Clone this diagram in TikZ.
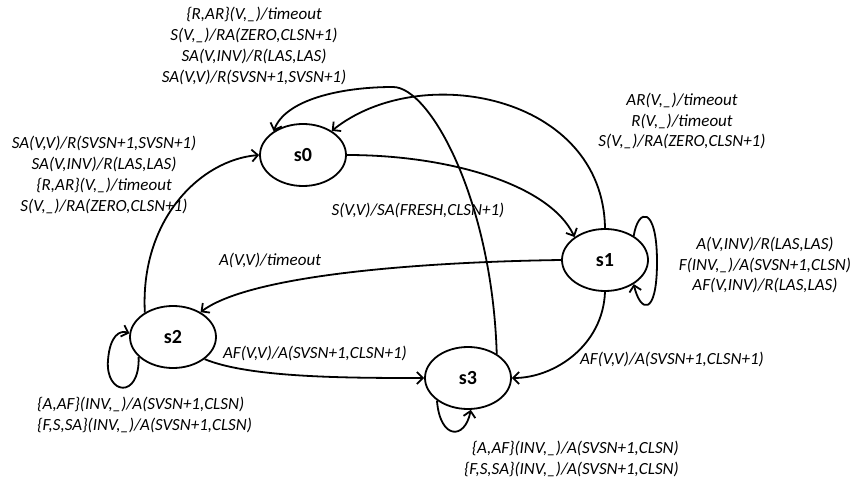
\documentclass[tikz,border=0pt]{standalone}
\usepackage{fontspec}
\setmainfont{Carlito}
\usetikzlibrary{arrows.meta,shapes.geometric}
\begin{document}
\begin{tikzpicture}[x=1pt,y=-1pt,
  state/.style={ellipse, draw, line width=1.8pt, minimum width=86pt, minimum height=62pt,
    inner sep=0pt, font=\fontsize{20}{24}\selectfont\bfseries},
  edge/.style={line width=1.8pt, -{Straight Barb[length=6pt,width=12pt]}},
  lbl/.style={font=\fontsize{17}{20.7}\selectfont\itshape, inner sep=0pt, align=center}]
\useasboundingbox (0,0) rectangle (859,478);

% states
\node[state] (s0) at (303,155) {s0};
\node[state] (s1) at (605,260) {s1};
\node[state] (s2) at (173,337) {s2};
\node[state] (s3) at (468,378) {s3};

% transitions
\draw[edge] (s0.east) .. controls (450,155) and (550,185) .. (s1.143);
\draw[edge] (s1.north) .. controls (603,95) and (420,60) .. (s0.40);
\draw[edge] (s3.40) .. controls (492,200) and (430,87) .. (393,87)
                    .. controls (340,87) and (285,100) .. (s0.141);
\draw[edge] (s1.west) .. controls (420,262) and (250,275) .. (s2.42);
\draw[edge] (s1.south) .. controls (603,345) and (555,378) .. (s3.east);
\draw[edge] (s2.139) .. controls (140,220) and (200,160) .. (s0.west);
\draw[edge] (s2.-35) .. controls (250,378) and (350,378) .. (s3.west);

% self loops
\draw[edge] (s1.40) .. controls (638,208) and (657,205) .. (657,262)
                    .. controls (657,318) and (640,312) .. (s1.-40);
\draw[edge] (s2.210) .. controls (140,400) and (105,395) .. (108,360)
                     .. controls (110,335) and (120,330) .. (s2.175);
\draw[edge] (s3.216) .. controls (440,440) and (465,440) .. (s3.-85);

% transition labels
\node[lbl] (t30) at (254,46) {\{R,AR\}(V,\_)/timeout\\S(V,\_)/RA(ZERO,CLSN+1)\\SA(V,INV)/R(LAS,LAS)\\SA(V,V)/R(SVSN+1,SVSN+1)};
\node[lbl] (t20) at (104,175) {SA(V,V)/R(SVSN+1,SVSN+1)\\SA(V,INV)/R(LAS,LAS)\\\{R,AR\}(V,\_)/timeout\\S(V,\_)/RA(ZERO,CLSN+1)};
\node[lbl] (t10) at (682,121) {AR(V,\_)/timeout\\R(V,\_)/timeout\\S(V,\_)/RA(ZERO,CLSN+1)};
\node[lbl] (t01) at (418,210) {S(V,V)/SA(FRESH,CLSN+1)};
\node[lbl] (t12) at (270,260) {A(V,V)/timeout};
\node[lbl] (t11) at (765,265) {A(V,INV)/R(LAS,LAS)\\F(INV,\_)/A(SVSN+1,CLSN)\\AF(V,INV)/R(LAS,LAS)};
\node[lbl] (t23) at (315,353) {AF(V,V)/A(SVSN+1,CLSN+1)};
\node[lbl] (t13) at (672,359) {AF(V,V)/A(SVSN+1,CLSN+1)};
\node[lbl, anchor=west, align=left] (t22) at (37,415) {\{A,AF\}(INV,\_)/A(SVSN+1,CLSN)\\\{F,S,SA\}(INV,\_)/A(SVSN+1,CLSN)};
\node[lbl, anchor=east, align=right] (t33) at (679,459) {\{A,AF\}(INV,\_)/A(SVSN+1,CLSN)\\\{F,S,SA\}(INV,\_)/A(SVSN+1,CLSN)};
\end{tikzpicture}
\end{document}
